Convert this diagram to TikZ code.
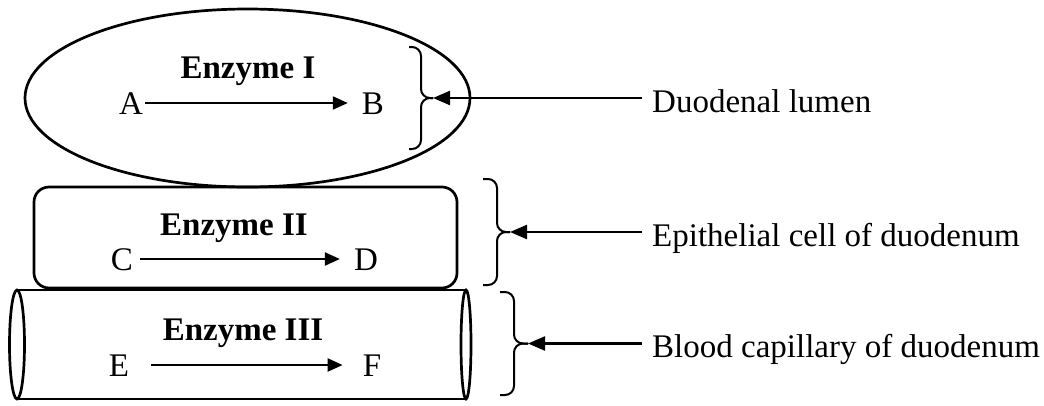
\documentclass[tikz,border=0pt]{standalone}
\usepackage{fontspec}
\setmainfont{Liberation Serif}
\usetikzlibrary{arrows.meta, shapes.geometric}

\begin{document}
\begin{tikzpicture}[x=1pt, y=-1pt,
  wall/.style={draw, line width=2.7pt, inner sep=0pt},
  letter/.style={inner sep=0pt, font=\fontsize{33}{40}\selectfont, text height=22pt, text depth=0pt},
  side/.style={inner sep=0pt, font=\fontsize{33}{40}\selectfont, text height=28pt, text depth=0pt, anchor=west},
  enz/.style={inner sep=0pt, font=\fontsize{33}{40}\selectfont\bfseries, anchor=base},
  react/.style={-{Triangle[length=15pt, width=13pt]}, line width=2.2pt},
  point/.style={-{Triangle[length=17pt, width=14pt]}, line width=2.2pt},
  brc/.style={line width=2pt, rounded corners=9pt},
]
\useasboundingbox (0,0) rectangle (1044,405);

\node[wall, ellipse, minimum width=445pt, minimum height=178pt] (lumen) at (247.5,98) {};
\node[wall, rounded corners=15pt, minimum width=423pt, minimum height=101pt] (cell) at (245.5,237.5) {};
\draw[wall] (17,290) -- (466,290) (17,399) -- (466,399);
\draw[wall] (17,344.5) ellipse [x radius=7.5pt, y radius=54.5pt];
\draw[wall] (466,344.5) ellipse [x radius=5pt, y radius=54.5pt];

\node[enz] (e1) at (248,78) {Enzyme I};
\node[letter] (A) at (131,103) {A};
\node[letter] (B) at (373,103) {B};
\draw[react] ([xshift=2pt]A.east) -- ([xshift=-14pt]B.west);

\node[enz] (e2) at (234,235) {Enzyme II};
\node[letter] (C) at (122,259) {C};
\node[letter] (D) at (366,259) {D};
\draw[react] ([xshift=7pt]C.east) -- ([xshift=-14pt]D.west);

\node[enz] (e3) at (243,340) {Enzyme III};
\node[letter] (E) at (119,365) {E};
\node[letter] (F) at (372,365) {F};
\draw[react] ([xshift=22pt]E.east) -- ([xshift=-20pt]F.west);

\coordinate (tipI) at (433,98);
\coordinate (tipII) at (510,232);
\coordinate (tipIII) at (528,343.5);
\draw[brc] (409,47) -- (421,47) -- (421,98) -- (tipI);
\draw[brc] (409,149) -- (421,149) -- (421,98) -- (tipI);
\draw[brc] (483,179) -- (497,179) -- (497,232) -- (tipII);
\draw[brc] (483,285) -- (497,285) -- (497,232) -- (tipII);
\draw[brc] (500,292) -- (514,292) -- (514,343.5) -- (tipIII);
\draw[brc] (500,395) -- (514,395) -- (514,343.5) -- (tipIII);

\node[side] (dl) at (652,98) {Duodenal lumen};
\node[side] (ep) at (652,232) {Epithelial cell of duodenum};
\node[side] (bc) at (652,343.5) {Blood capillary of duodenum};
\draw[point] ([xshift=-10pt]dl.west) -- (tipI);
\draw[point] ([xshift=-10pt]ep.west) -- (tipII);
\draw[point] ([xshift=-10pt]bc.west) -- (tipIII);
\end{tikzpicture}
\end{document}
